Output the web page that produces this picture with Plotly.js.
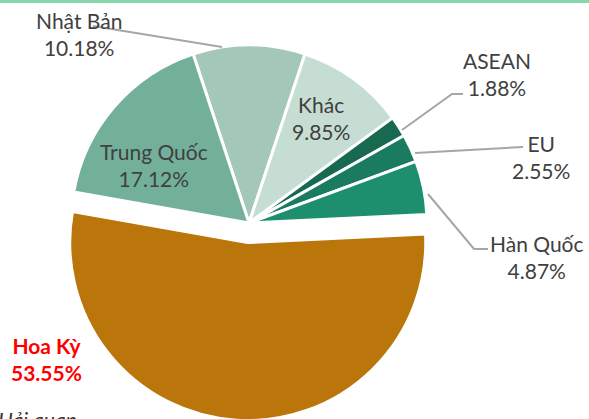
<!DOCTYPE html>
<html>
<head>
<meta charset="utf-8">
<script src="https://cdn.plot.ly/plotly-3.0.1.min.js"></script>
<style>
html,body{margin:0;padding:0;overflow:hidden;background:#fff;}
#chart{width:589px;height:440px;}
</style>
</head>
<body>
<div id="chart"></div>
<script>
// ---- data ----
var labels = ["Nhật Bản", "Khác", "ASEAN", "EU", "Hàn Quốc", "Hoa Kỳ", "Trung Quốc"];
var values = [10.18, 9.85, 1.88, 2.55, 4.87, 53.55, 17.12];
var colors = ["#a3c8b8", "#c5ddd3", "#17694f", "#1b7b60", "#1e8f6e", "#bb760b", "#72b09a"];
var pulls  = [0, 0, 0, 0, 0, 0.11, 0];
var sourceText = "Hải quan";

// ---- layout helpers (pixel -> paper) ----
var W = 589, H = 440;
function px(x){ return x / W; }
function py(y){ return 1 - y / H; }

var cx = 249, cy = 223, r = 178, maxPull = 0.11;
var half = r * (1 + maxPull);

function labelText(i){ return labels[i] + "<br>" + values[i].toFixed(2) + "%"; }

var labelPos = {
  "Nhật Bản": [79, 34],
  "Khác": [321, 118],
  "ASEAN": [497, 74],
  "EU": [541, 157],
  "Hàn Quốc": [537, 257],
  "Hoa Kỳ": [46, 359],
  "Trung Quốc": [154, 165]
};

var fam = "Lato, 'Noto Sans', sans-serif";
var baseFont = {family: fam, size: 21, color: "#404040"};
var annotations = labels.map(function(l, i){
  var p = labelPos[l];
  var f = baseFont;
  var txt = labelText(i);
  if (l === "Hoa Kỳ") {
    f = {family: fam, size: 21, color: "#ff0000"};
    txt = "<b>" + labels[i] + "</b><br><b>" + values[i].toFixed(2) + "%</b>";
  }
  return {xref: "paper", yref: "paper", x: px(p[0]), y: py(p[1]),
          xanchor: "center", yanchor: "middle", showarrow: false,
          text: txt, font: f, align: "center"};
});
annotations.push({xref: "paper", yref: "paper", x: px(-4), y: py(405),
  xanchor: "left", yanchor: "top", showarrow: false,
  text: "<i>" + sourceText + "</i>", font: {family: fam, size: 21, color: "#333333"}});

function seg(pts){
  var d = "M" + pts.map(function(p){ return px(p[0]) + "," + py(p[1]); }).join(" L");
  return {type: "path", xref: "paper", yref: "paper", path: d,
          line: {color: "#a6a6a6", width: 2}};
}
var shapes = [
  {type: "rect", xref: "paper", yref: "paper", x0: 0, x1: 1, y0: py(3), y1: 1,
   fillcolor: "#86d8ab", line: {width: 0}},
  seg([[93, 26], [222, 47]]),
  seg([[463, 94], [452, 94], [402, 130]]),
  seg([[523, 147], [415, 153]]),
  seg([[488, 249], [474, 249], [428, 194]])
];

var trace = {
  type: "pie",
  labels: labels,
  values: values,
  sort: false,
  direction: "clockwise",
  rotation: -18.3,
  pull: pulls,
  marker: {colors: colors, line: {color: "#ffffff", width: 3}},
  textinfo: "none",
  hoverinfo: "skip",
  showlegend: false,
  domain: {x: [px(cx - half), px(cx + half)], y: [py(cy + half), py(cy - half)]}
};

var layout = {
  width: W, height: H,
  margin: {l: 0, r: 0, t: 0, b: 0},
  paper_bgcolor: "#ffffff",
  showlegend: false,
  annotations: annotations,
  shapes: shapes
};

Plotly.newPlot("chart", [trace], layout, {displayModeBar: false, staticPlot: true});
</script>
</body>
</html>
